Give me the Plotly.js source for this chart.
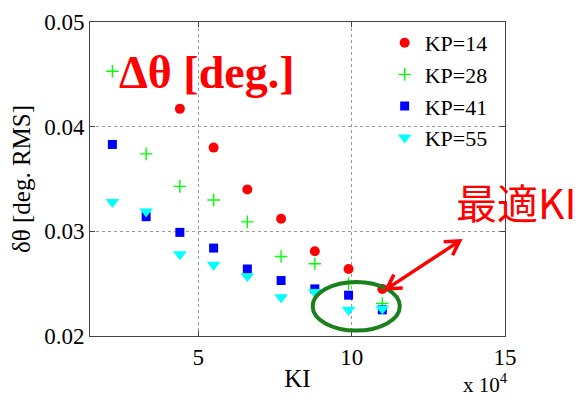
<!DOCTYPE html>
<html>
<head>
<meta charset="utf-8">
<script src="https://cdn.plot.ly/plotly-3.0.1.min.js"></script>
<style>
  html, body { margin: 0; padding: 0; background: #fff; }
  #chart { width: 582px; height: 400px; }
</style>
</head>
<body>
<div id="chart"></div>
<script>
// Integral gain KI swept for each proportional gain KP
const kiKP14 = [44000, 55000, 66000, 77000, 88000, 99000, 110000];
const rmsKP14 = [0.0417, 0.0380, 0.0340, 0.0312, 0.0281, 0.0264, 0.0245];

const kiAll = [22000, 33000, 44000, 55000, 66000, 77000, 88000, 99000, 110000];
const rmsKP28 = [0.0453, 0.0374, 0.0343, 0.0330, 0.0309, 0.0276, 0.0269, 0.0250, 0.0231];
const rmsKP41 = [0.0383, 0.0314, 0.0299, 0.0284, 0.0264, 0.0253, 0.0245, 0.0239, 0.0225];
const rmsKP55 = [0.0328, 0.0319, 0.0278, 0.0268, 0.0257, 0.0237, 0.0242, 0.0225, 0.0226];

const seriesNames = ['KP=14', 'KP=28', 'KP=41', 'KP=55'];
const xTickVals = [50000, 100000, 150000];
const xTickText = ['5', '10', '15'];
const yTickVals = [0.02, 0.03, 0.04, 0.05];

const serif = 'Liberation Serif, Times New Roman, serif';

const traces = [
  { x: kiKP14, y: rmsKP14, name: seriesNames[0], type: 'scatter', mode: 'markers',
    marker: { symbol: 'circle', size: 10, color: '#ff0000' } },
  { x: kiAll, y: rmsKP28, name: seriesNames[1], type: 'scatter', mode: 'markers',
    marker: { symbol: 'cross-thin', size: 9, color: '#00ff00', line: { color: '#00ff00', width: 1.4 } } },
  { x: kiAll, y: rmsKP41, name: seriesNames[2], type: 'scatter', mode: 'markers',
    marker: { symbol: 'square', size: 9, color: '#0000ff' } },
  { x: kiAll, y: rmsKP55, name: seriesNames[3], type: 'scatter', mode: 'markers',
    marker: { symbol: 'triangle-down', size: 12, color: '#00ffff' } }
];

const axisCommon = {
  showline: true, linecolor: '#444', linewidth: 1, mirror: 'ticks',
  ticks: 'inside', ticklen: 5, tickcolor: '#444',
  showgrid: true, gridcolor: '#999', griddash: 'dot', gridwidth: 1,
  zeroline: false,
  tickfont: { family: serif, size: 23, color: '#000' }
};

// Double-headed arrow drawn in pixel units, anchored at its lower-left tip
const arrowPath = 'M7.2,14.3 L0,0 L16,0.9 M0,0 L73,48 M65.8,33.7 L73,48 L57,47.1';

const layout = {
  width: 582, height: 400,
  margin: { l: 90, r: 77, t: 22, b: 64 },
  paper_bgcolor: '#fff', plot_bgcolor: '#fff',
  showlegend: true,
  legend: {
    x: 0.71, y: 1.0, xanchor: 'left', yanchor: 'top',
    bgcolor: 'rgba(0,0,0,0)', borderwidth: 0,
    font: { family: serif, size: 22, color: '#000' },
    itemwidth: 30, tracegroupgap: 0
  },
  xaxis: Object.assign({}, axisCommon, {
    range: [14700, 150000], tickmode: 'array', tickvals: xTickVals, ticktext: xTickText,
    title: { text: 'KI', font: { family: serif, size: 25, color: '#000' }, standoff: 0 }
  }),
  yaxis: Object.assign({}, axisCommon, {
    range: [0.02, 0.05], tickmode: 'array', tickvals: yTickVals, tickformat: '.2f',
    title: { text: 'δθ [deg. RMS]', font: { family: serif, size: 25, color: '#000' }, standoff: 6 }
  }),
  shapes: [
    { type: 'circle', xref: 'x', yref: 'y', x0: 87300, x1: 115700, y0: 0.02052, y1: 0.02517,
      line: { color: '#1b801b', width: 4 } },
    { type: 'path', xref: 'x', yref: 'y', xsizemode: 'pixel', ysizemode: 'pixel',
      xanchor: 111440, yanchor: 0.0245, path: arrowPath,
      line: { color: '#ff0000', width: 3.5 } }
  ],
  annotations: [
    { xref: 'paper', yref: 'paper', x: 0.283, y: 0.84, xanchor: 'center', yanchor: 'middle',
      text: '<b>Δθ [deg.]</b>', showarrow: false,
      font: { family: serif, size: 46, color: '#ff0000' } },
    { xref: 'paper', yref: 'paper', x: 1.027, y: 0.43, xanchor: 'center', yanchor: 'middle',
      text: '最適KI', showarrow: false,
      font: { family: 'Noto Sans CJK JP, sans-serif', size: 41, color: '#ff0000' } },
    { xref: 'paper', yref: 'paper', x: 1.012, y: -0.2, xanchor: 'right', yanchor: 'bottom',
      text: 'x 10<sup>4</sup>', showarrow: false,
      font: { family: serif, size: 21, color: '#000' } }
  ]
};

Plotly.newPlot('chart', traces, layout, { displayModeBar: false, staticPlot: true });
</script>
</body>
</html>
